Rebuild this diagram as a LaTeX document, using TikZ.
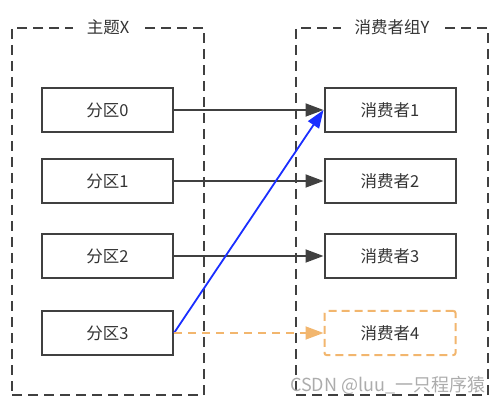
\documentclass[tikz,border=0pt]{standalone}
\usepackage{fontspec}
\setmainfont{Noto Sans CJK SC}
\usetikzlibrary{arrows.meta, positioning}
\definecolor{linegray}{HTML}{404040}
\definecolor{textgray}{HTML}{333333}
\definecolor{flowblue}{HTML}{1A2EFF}
\definecolor{flowamber}{HTML}{F2B66E}

\begin{document}
\begin{tikzpicture}[x=1pt, y=-1pt, >={Triangle[length=18pt, width=13pt]},
		group/.style={draw=linegray, line width=2pt, dash pattern=on 10pt off 6pt, minimum width=192pt, minimum height=367pt},
		grouptitle/.style={fill=white, inner xsep=14pt, inner ysep=2pt, text=textgray, font=\fontsize{16.5}{19}\selectfont},
		part/.style={rectangle, draw=linegray, line width=2pt, minimum width=131pt, minimum height=44pt, text=textgray, font=\fontsize{16.5}{19}\selectfont},
		idle/.style={part, draw=flowamber, dash pattern=on 8pt off 5pt, rounded corners=2pt},
		flow/.style={->, line width=1.8pt, color=linegray}]
		\useasboundingbox (0,0) rectangle (501,406);
		
		\node[group] (topic) at (108,211.5) {};
		\node[group] (cgroup) at (392,211.5) {};
		\node[grouptitle] at (topic.north) {主题X};
		\node[grouptitle] at (cgroup.north) {消费者组Y};
		
		\node[part] (p0) at (107.5,110) {分区0};
		\node[part, below=25pt of p0] (p1) {分区1};
		\node[part, below=29pt of p1] (p2) {分区2};
		\node[part, below=31pt of p2] (p3) {分区3};
		
		\node[part] (c1) at (390,110) {消费者1};
		\node[part, below=25pt of c1] (c2) {消费者2};
		\node[part, below=29pt of c2] (c3) {消费者3};
		\node[idle, below=31pt of c3] (c4) {消费者4};
		
		\draw[flow] (p0) -- (c1);
		\draw[flow] (p1) -- (c2);
		\draw[flow] (p2) -- (c3);
		\draw[flow, color=flowblue] (p3.east) -- (c1.west);
		\draw[flow, color=flowamber, dash pattern=on 8pt off 6pt] (p3) -- (c4);
		
		\node[text=gray!65, font=\fontsize{18}{20}\selectfont, anchor=east] (mark) at (489,385) {CSDN @luu\_一只程序猿};
	\end{tikzpicture}
\end{document}
